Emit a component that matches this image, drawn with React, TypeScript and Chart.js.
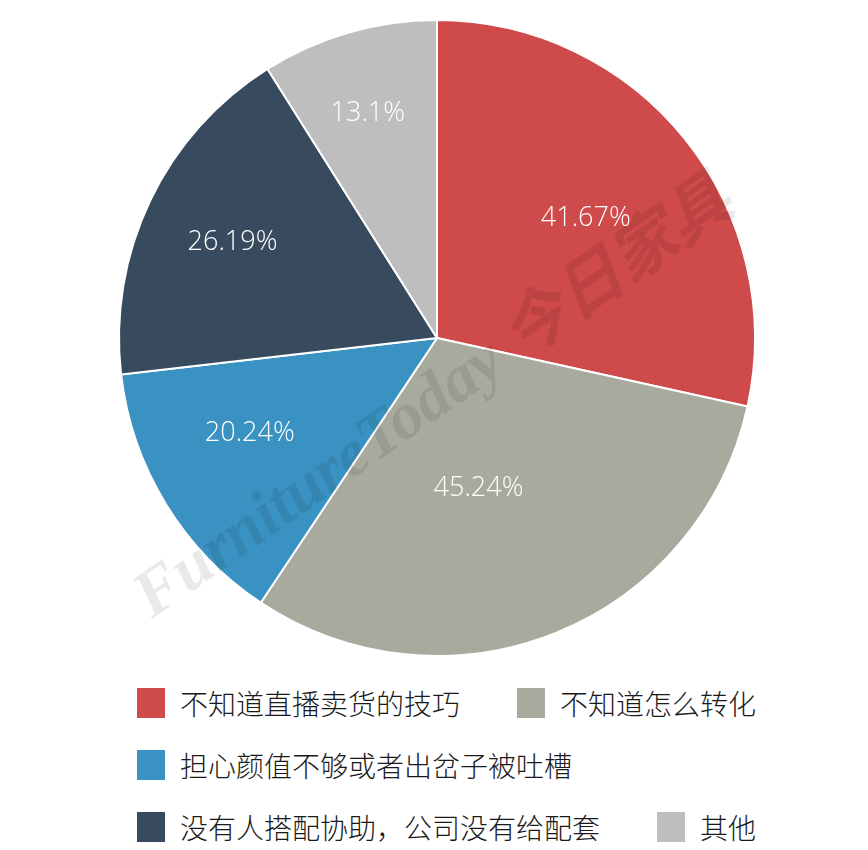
import React, { useEffect, useRef } from "react";
import { Chart, registerables } from "chart.js";

Chart.register(...registerables);

const categories = [
  "不知道直播卖货的技巧",
  "不知道怎么转化",
  "担心颜值不够或者出岔子被吐槽",
  "没有人搭配协助，公司没有给配套",
  "其他",
];
const values = [41.67, 45.24, 20.24, 26.19, 13.1];
const valueLabels = ["41.67%", "45.24%", "20.24%", "26.19%", "13.1%"];
const colors = ["#CF4A4A", "#A9AA9E", "#3A92C2", "#384A5E", "#BEBEBE"];
const labelRadius = [0.6, 0.49, 0.66, 0.71, 0.74];
const labelAngleShift = [0, 6.5, 4.6, -0.5, -1];
const watermark = "FurnitureToday 今日家具";

const overlayPlugin = {
  id: "overlay",
  afterDatasetsDraw(chart: any) {
    const ctx = chart.ctx;
    const meta = chart.getDatasetMeta(0);
    const first = meta.data[0];
    if (!first) return;
    const { x: cx, y: cy } = first.getProps(["x", "y"], true);

    // watermark
    ctx.save();
    ctx.translate(cx - 2, cy + 62);
    ctx.rotate((-35 * Math.PI) / 180);
    ctx.font = "italic bold 66px 'Liberation Serif', 'Noto Sans CJK SC', serif";
    ctx.fillStyle = "rgba(0,0,0,0.085)";
    ctx.textAlign = "center";
    ctx.textBaseline = "middle";
    ctx.fillText(watermark, 0, 0);
    ctx.restore();

    // value labels
    ctx.save();
    ctx.font = "300 27px 'Open Sans', 'Lato', sans-serif";
    ctx.fillStyle = "#ffffff";
    ctx.textAlign = "center";
    ctx.textBaseline = "middle";
    meta.data.forEach((arc: any, i: number) => {
      const p = arc.getProps(["x", "y", "startAngle", "endAngle", "outerRadius"], true);
      const a = (p.startAngle + p.endAngle) / 2 + (labelAngleShift[i] * Math.PI) / 180;
      const r = p.outerRadius * labelRadius[i];
      ctx.fillText(valueLabels[i], p.x + Math.cos(a) * r, p.y + Math.sin(a) * r);
    });
    ctx.restore();
  },
};

export default function App() {
  const ref = useRef<HTMLCanvasElement | null>(null);

  useEffect(() => {
    if (!ref.current) return;
    const chart = new Chart(ref.current, {
      type: "pie",
      data: {
        labels: categories,
        datasets: [
          {
            data: values,
            backgroundColor: colors,
            borderColor: "#ffffff",
            borderWidth: 2,
          },
        ],
      },
      options: {
        animation: false,
        responsive: true,
        maintainAspectRatio: false,
        layout: { padding: { top: 11, bottom: 3, left: 6, right: 0 } },
        plugins: {
          legend: { display: false },
          tooltip: { enabled: false },
        },
      },
      plugins: [overlayPlugin],
    });
    return () => chart.destroy();
  }, []);

  return (
    <div style={{ width: 852, position: "relative", fontFamily: "'Noto Sans CJK SC', sans-serif" }}>
      <div style={{ position: "relative", width: 852, height: 652 }}>
        <canvas ref={ref} />
      </div>
      <div
        style={{
          marginTop: 12,
          marginLeft: 129,
          width: 640,
          display: "flex",
          flexWrap: "wrap",
          columnGap: 57,
        }}
      >
        {categories.map((c, i) => (
          <div
            key={c}
            style={{ display: "flex", alignItems: "center", height: 62, whiteSpace: "nowrap" }}
          >
            <span
              style={{
                display: "inline-block",
                width: 28,
                height: 30,
                background: colors[i],
                marginRight: 15,
              }}
            />
            <span style={{ fontSize: 28, color: "#1a1a1a", fontWeight: 300, lineHeight: "30px" }}>{c}</span>
          </div>
        ))}
      </div>
    </div>
  );
}
